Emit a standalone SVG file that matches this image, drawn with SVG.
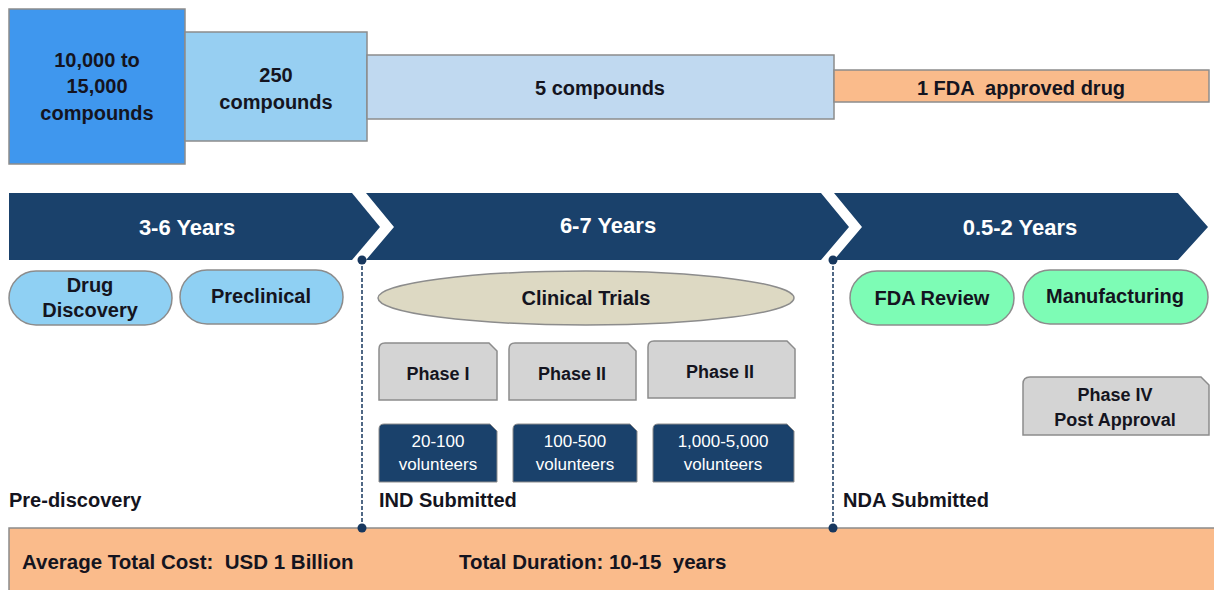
<svg xmlns="http://www.w3.org/2000/svg" width="1214" height="590" viewBox="0 0 1214 590">
<style>
text{font-family:"Liberation Sans",Arial,sans-serif;font-weight:bold;fill:#141420;text-anchor:middle}
.box{stroke:#8c8c8c;stroke-width:1.5}
.chev{fill:#1a416b}
.ct{fill:#ffffff;font-size:22px}
.t20{font-size:20px}
.t18{font-size:18px}
.vol{fill:#ffffff;font-size:17px;font-weight:normal}
.volbox{fill:#1a416b;stroke:#8c8c8c;stroke-width:1}
.gray{fill:#d4d4d4;stroke:#8c8c8c;stroke-width:1.5}
.lbl{font-size:20px;text-anchor:start}
.sum{font-size:20.5px;text-anchor:start}
.dash{stroke:#17375e;stroke-width:1.5;stroke-dasharray:4 2;fill:none}
.dot{fill:#17375e}
</style>

<g id="funnel">
  <g id="n-10000"><rect class="box" x="9" y="9" width="176" height="155" fill="#3f97ee"/>
    <text class="t20" x="97" y="67">10,000 to</text><text class="t20" x="97" y="93">15,000</text><text class="t20" x="97" y="120">compounds</text></g>
  <g id="n-250"><rect class="box" x="185" y="32" width="182" height="109" fill="#97cff2"/>
    <text class="t20" x="276" y="82">250</text><text class="t20" x="276" y="109">compounds</text></g>
  <g id="n-5"><rect class="box" x="367" y="55" width="467" height="64" fill="#c0d9f0"/>
    <text class="t20" x="600" y="95">5 compounds</text></g>
  <g id="n-1"><rect class="box" x="834" y="70" width="375" height="32" fill="#fabb8b"/>
    <text class="t20" x="1021" y="95" xml:space="preserve">1 FDA  approved drug</text></g>
</g>

<g id="chevrons">
  <g id="chev1"><path class="chev" d="M9,193 L352,193 L380,227 L352,260 L9,260 Z"/><text class="ct" x="187" y="235">3-6 Years</text></g>
  <g id="chev2"><path class="chev" d="M366,193 L821,193 L849,227 L821,260 L366,260 L394,227 Z"/><text class="ct" x="608" y="233">6-7 Years</text></g>
  <g id="chev3"><path class="chev" d="M834,193 L1178,193 L1208,227 L1178,260 L834,260 L862,227 Z"/><text class="ct" x="1020" y="235">0.5-2 Years</text></g>
</g>

<g id="connectors">
  <line class="dash" x1="362" y1="260" x2="362" y2="528"/>
  <line class="dash" x1="833" y1="260" x2="833" y2="528"/>
  <circle class="dot" cx="362" cy="260" r="4.5"/>
  <circle class="dot" cx="833" cy="260" r="4.5"/>
</g>

<g id="drug-discovery"><rect class="box" x="9" y="271" width="163" height="54" rx="27" fill="#8fd0f3"/>
  <text class="t20" x="90" y="292">Drug</text><text class="t20" x="90" y="317">Discovery</text></g>
<g id="preclinical"><rect class="box" x="180" y="270" width="163" height="54" rx="27" fill="#8fd0f3"/>
  <text class="t20" x="261" y="303">Preclinical</text></g>
<g id="clinical-trials"><ellipse class="box" cx="586" cy="298" rx="208" ry="27" fill="#ddd9c3"/>
  <text class="t20" x="586" y="305">Clinical Trials</text></g>
<g id="fda-review"><rect class="box" x="850" y="271" width="164" height="54" rx="27" fill="#7dfcb5"/>
  <text class="t20" x="932" y="305">FDA Review</text></g>
<g id="manufacturing"><rect class="box" x="1023" y="270" width="185" height="54" rx="27" fill="#7dfcb5"/>
  <text class="t20" x="1115" y="303">Manufacturing</text></g>

<g id="phase1"><path class="gray" d="M385,343 L489,343 L497,351 L497,400 L379,400 L379,349 Q379,343 385,343 Z"/>
  <text class="t18" x="438" y="380">Phase I</text></g>
<g id="phase2"><path class="gray" d="M515,343 L628,343 L636,351 L636,400 L509,400 L509,349 Q509,343 515,343 Z"/>
  <text class="t18" x="572" y="380">Phase II</text></g>
<g id="phase3"><path class="gray" d="M654,341 L787,341 L795,349 L795,398 L648,398 L648,347 Q648,341 654,341 Z"/>
  <text class="t18" x="720" y="378">Phase II</text></g>
<g id="phase4"><path class="gray" d="M1030,377 L1201,377 L1209,385 L1209,435 L1023,435 L1023,384 Q1023,377 1030,377 Z"/>
  <text class="t18" x="1115" y="401">Phase IV</text><text class="t18" x="1115" y="426">Post Approval</text></g>

<g id="vol1"><path class="volbox" d="M384,424 L490,424 L497,431 L497,482 L379,482 L379,429 Q379,424 384,424 Z"/>
  <text class="vol" x="438" y="447">20-100</text><text class="vol" x="438" y="470">volunteers</text></g>
<g id="vol2"><path class="volbox" d="M518,424 L630,424 L637,431 L637,482 L513,482 L513,429 Q513,424 518,424 Z"/>
  <text class="vol" x="575" y="447">100-500</text><text class="vol" x="575" y="470">volunteers</text></g>
<g id="vol3"><path class="volbox" d="M658,424 L787,424 L794,431 L794,482 L653,482 L653,429 Q653,424 658,424 Z"/>
  <text class="vol" x="723" y="447">1,000-5,000</text><text class="vol" x="723" y="470">volunteers</text></g>

<g id="milestones">
  <text class="lbl" x="9" y="507">Pre-discovery</text>
  <text class="lbl" x="379" y="507">IND Submitted</text>
  <text class="lbl" x="843" y="507">NDA Submitted</text>
</g>

<g id="summary">
  <rect x="9" y="528" width="1215" height="70" fill="#fabb8b" stroke="#8c8c8c" stroke-width="1.5"/>
  <circle class="dot" cx="362" cy="528" r="4.5"/>
  <circle class="dot" cx="833" cy="528" r="4.5"/>
  <text class="sum" x="22" y="569" xml:space="preserve">Average Total Cost:  USD 1 Billion</text>
  <text class="sum" x="459" y="569" xml:space="preserve">Total Duration: 10-15  years</text>
</g>
</svg>
